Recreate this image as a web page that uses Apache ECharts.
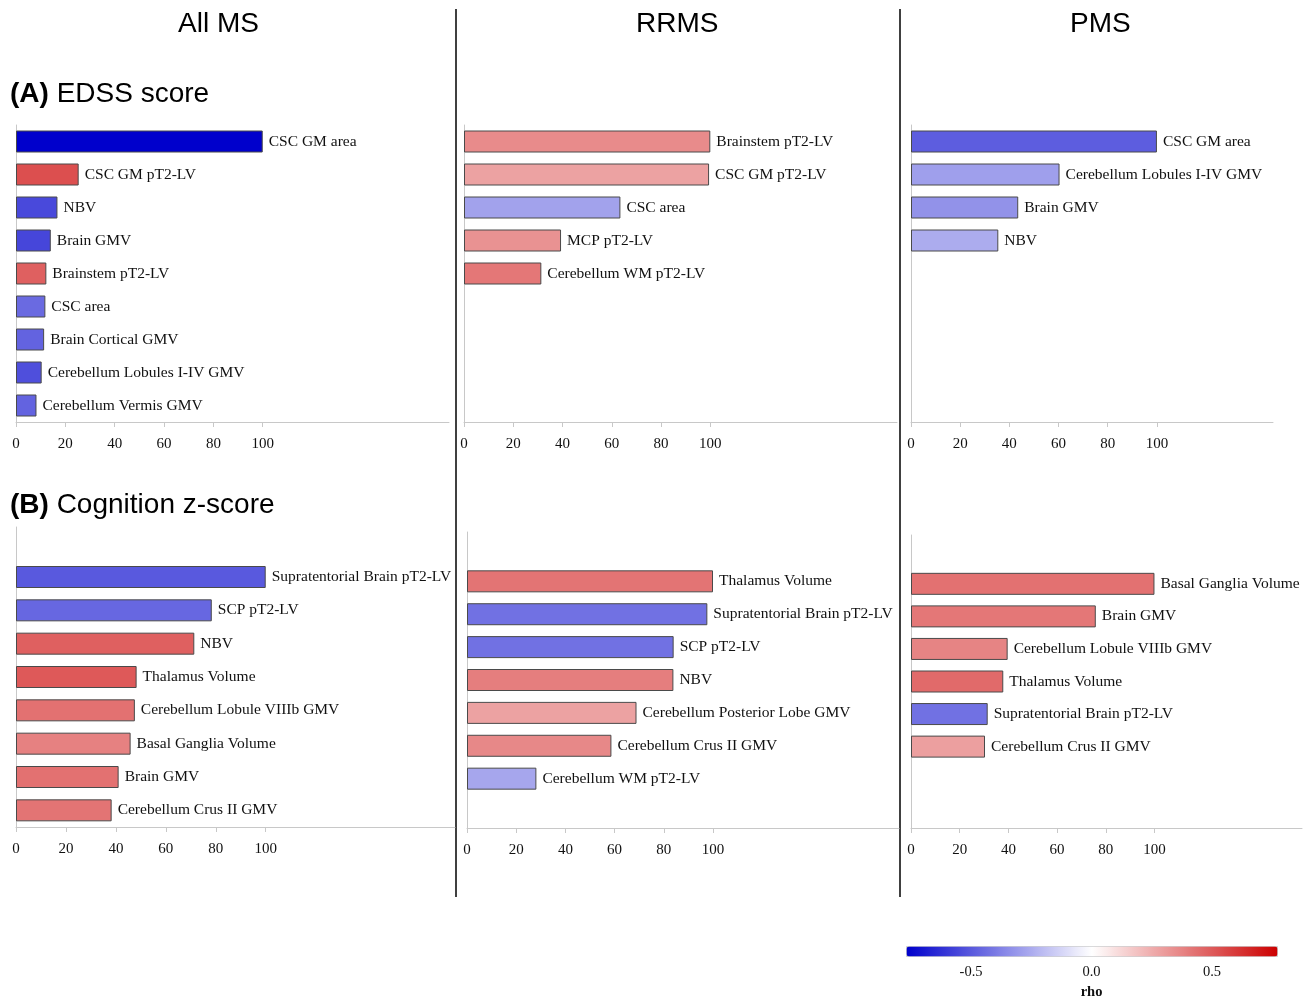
<!DOCTYPE html>
<html>
<head>
<meta charset="utf-8">
<title>Feature importance by MS phenotype</title>
<script src="https://cdn.jsdelivr.net/npm/echarts@6/dist/echarts.min.js"></script>
<style>
  html, body { margin: 0; padding: 0; background: #fff; }
  #chart { width: 1311px; height: 998px; }
</style>
</head>
<body>
<div id="chart"></div>
<script>
// (A) EDSS score — relative importance (0-100) and spearman rho per feature
const edssAllNames = ['CSC GM area', 'CSC GM pT2-LV', 'NBV', 'Brain GMV', 'Brainstem pT2-LV', 'CSC area', 'Brain Cortical GMV', 'Cerebellum Lobules I-IV GMV', 'Cerebellum Vermis GMV']
const edssAllImportance = [100, 25.4, 16.8, 14.1, 12.3, 11.9, 11.4, 10.4, 8.3]
const edssAllRho = [-0.77, 0.53, -0.55, -0.56, 0.48, -0.45, -0.47, -0.53, -0.47]

const edssRrmsNames = ['Brainstem pT2-LV', 'CSC GM pT2-LV', 'CSC area', 'MCP pT2-LV', 'Cerebellum WM pT2-LV']
const edssRrmsImportance = [100, 99.5, 63.5, 39.4, 31.4]
const edssRrmsRho = [0.35, 0.28, -0.28, 0.33, 0.41]

const edssPmsNames = ['CSC GM area', 'Cerebellum Lobules I-IV GMV', 'Brain GMV', 'NBV']
const edssPmsImportance = [100, 60.4, 43.6, 35.5]
const edssPmsRho = [-0.49, -0.29, -0.33, -0.25]

// (B) Cognition z-score
const cogAllNames = ['Supratentorial Brain pT2-LV', 'SCP pT2-LV', 'NBV', 'Thalamus Volume', 'Cerebellum Lobule VIIIb GMV', 'Basal Ganglia Volume', 'Brain GMV', 'Cerebellum Crus II GMV']
const cogAllImportance = [100, 78.4, 71.4, 48.3, 47.6, 45.9, 41.1, 38.3]
const cogAllRho = [-0.5, -0.46, 0.48, 0.5, 0.43, 0.38, 0.43, 0.42]

const cogRrmsNames = ['Thalamus Volume', 'Supratentorial Brain pT2-LV', 'SCP pT2-LV', 'NBV', 'Cerebellum Posterior Lobe GMV', 'Cerebellum Crus II GMV', 'Cerebellum WM pT2-LV']
const cogRrmsImportance = [100, 97.7, 84.0, 83.9, 68.9, 58.7, 28.2]
const cogRrmsRho = [0.42, -0.43, -0.43, 0.39, 0.28, 0.36, -0.27]

const cogPmsNames = ['Basal Ganglia Volume', 'Brain GMV', 'Cerebellum Lobule VIIIb GMV', 'Thalamus Volume', 'Supratentorial Brain pT2-LV', 'Cerebellum Crus II GMV']
const cogPmsImportance = [100, 75.9, 39.7, 37.9, 31.5, 30.4]
const cogPmsRho = [0.43, 0.41, 0.37, 0.45, -0.43, 0.29]

const xTicks = [0, 20, 40, 60, 80, 100]
const rhoTicks = [-0.5, 0, 0.5]
const rhoMin = -0.77
const rhoMax = 0.77

const serif = '"Liberation Serif", "DejaVu Serif", serif'
const sans = '"Liberation Sans", Arial, sans-serif'
const axisGray = '#c8c8c8'

// layout of the six panels (pixel boxes + category slot range)
const panels = [
  { names: edssAllNames, imp: edssAllImportance, rho: edssAllRho, left: 16, top: 125, width: 433, height: 297, xMax: 175.5, slot: [0, 8] },
  { names: edssRrmsNames, imp: edssRrmsImportance, rho: edssRrmsRho, left: 464, top: 125, width: 433, height: 297, xMax: 175.8, slot: [0, 8] },
  { names: edssPmsNames, imp: edssPmsImportance, rho: edssPmsRho, left: 911, top: 125, width: 362, height: 297, xMax: 147.2, slot: [0, 8] },
  { names: cogAllNames, imp: cogAllImportance, rho: cogAllRho, left: 16, top: 527, width: 439, height: 300, xMax: 175.8, slot: [-1, 7] },
  { names: cogRrmsNames, imp: cogRrmsImportance, rho: cogRrmsRho, left: 467, top: 532, width: 432, height: 296, xMax: 175.6, slot: [-1, 7] },
  { names: cogPmsNames, imp: cogPmsImportance, rho: cogPmsRho, left: 911, top: 535, width: 391, height: 293, xMax: 160.6, slot: [-1, 7] }
]

function buildOption() {
  const grid = []
  const xAxis = []
  const yAxis = []
  const series = []

  panels.forEach((p, i) => {
    grid.push({ left: p.left, top: p.top, width: p.width, height: p.height })
    xAxis.push({
      type: 'value',
      gridIndex: i,
      min: 0,
      max: p.xMax,
      axisLine: { show: true, lineStyle: { color: axisGray, width: 1 } },
      axisTick: { show: true, length: 5, customValues: xTicks, lineStyle: { color: axisGray } },
      axisLabel: { customValues: xTicks, margin: 15, color: '#111', fontFamily: serif, fontSize: 15 },
      splitLine: { show: false }
    })
    yAxis.push({
      type: 'category',
      gridIndex: i,
      data: p.names,
      inverse: true,
      min: p.slot[0],
      max: p.slot[1],
      axisLine: { show: true, lineStyle: { color: axisGray, width: 1 } },
      axisTick: { show: false },
      axisLabel: { show: false },
      splitLine: { show: false }
    })
    series.push({
      type: 'bar',
      xAxisIndex: i,
      yAxisIndex: i,
      barWidth: 22,
      data: p.names.map((n, k) => [p.imp[k], n, p.rho[k]]),
      encode: { x: 0, y: 1 },
      itemStyle: { borderColor: '#4a4a4a', borderWidth: 1 },
      label: {
        show: true,
        position: 'right',
        distance: 6,
        color: '#111',
        fontFamily: serif,
        fontSize: 15.5,
        formatter: (params) => params.value[1]
      },
      silent: true
    })
  })

  // colour bar axis (rho)
  grid.push({ left: 906, top: 956, width: 371, height: 1 })
  xAxis.push({
    type: 'value',
    gridIndex: 6,
    min: rhoMin,
    max: rhoMax,
    axisLine: { show: false },
    axisTick: { show: false },
    splitLine: { show: false },
    axisLabel: {
      customValues: rhoTicks,
      margin: 8,
      color: '#111',
      fontFamily: serif,
      fontSize: 14.5,
      formatter: (v) => v.toFixed(1)
    },
    name: 'rho',
    nameLocation: 'middle',
    nameGap: 28,
    nameTextStyle: { fontFamily: serif, fontSize: 14.5, fontWeight: 'bold', color: '#111' }
  })
  yAxis.push({ type: 'value', gridIndex: 6, show: false })

  const colTitle = { fontFamily: sans, fontSize: 28, fontWeight: 'normal', color: '#000' }
  const bold = { b: { fontFamily: sans, fontSize: 28, fontWeight: 'bold', color: '#000' } }

  return {
    animation: false,
    backgroundColor: '#fff',
    title: [
      { text: 'All MS', left: 178, top: 10, padding: 0, textStyle: colTitle },
      { text: 'RRMS', left: 636, top: 10, padding: 0, textStyle: colTitle },
      { text: 'PMS', left: 1070, top: 10, padding: 0, textStyle: colTitle },
      { text: '{b|(A)} EDSS score', left: 10, top: 80, padding: 0, textStyle: { ...colTitle, rich: bold } },
      { text: '{b|(B)} Cognition z-score', left: 10, top: 491, padding: 0, textStyle: { ...colTitle, rich: bold } }
    ],
    grid,
    xAxis,
    yAxis,
    visualMap: {
      type: 'continuous',
      min: rhoMin,
      max: rhoMax,
      dimension: 2,
      seriesIndex: [0, 1, 2, 3, 4, 5],
      orient: 'horizontal',
      left: 906,
      top: 946,
      itemWidth: 10,
      itemHeight: 371,
      padding: 0,
      calculable: false,
      hoverLink: false,
      formatter: () => '',
      borderColor: '#cccccc',
      borderWidth: 1,
      inRange: { color: ['#0000cc', '#ffffff', '#cc0000'] }
    },
    graphic: [
      { type: 'line', shape: { x1: 456, y1: 9, x2: 456, y2: 897 }, style: { stroke: '#000', lineWidth: 1.5 } },
      { type: 'line', shape: { x1: 900, y1: 9, x2: 900, y2: 897 }, style: { stroke: '#000', lineWidth: 1.5 } }
    ],
    series
  }
}

const chartInstance = echarts.init(document.getElementById('chart'))
chartInstance.setOption(buildOption())
</script>
</body>
</html>
